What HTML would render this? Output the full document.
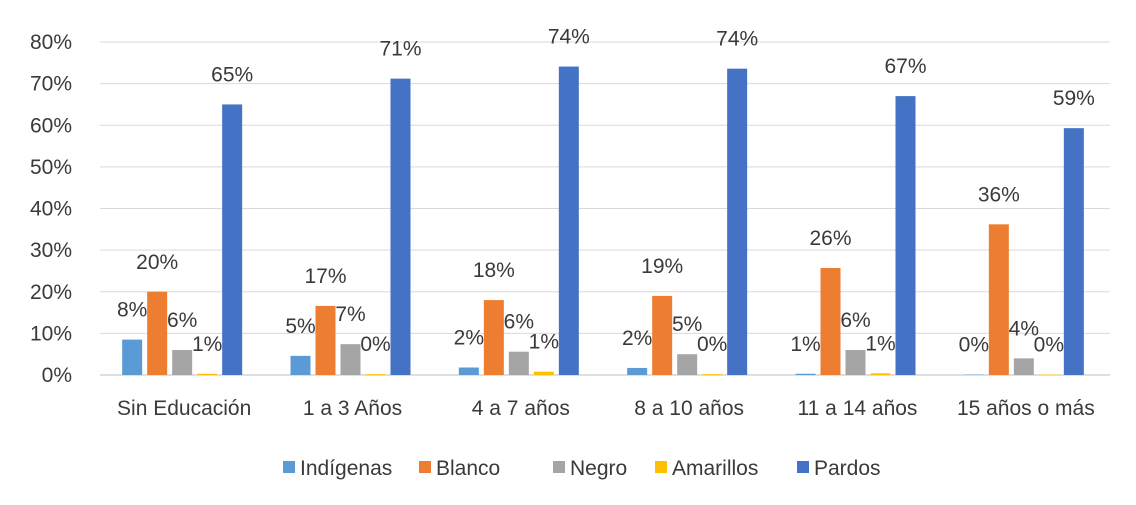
<!DOCTYPE html>
<html><head><meta charset="utf-8"><style>
body{margin:0;background:#fff}
svg text{font-family:"Liberation Sans",sans-serif;fill:#3a3a3a}
</style></head><body>
<svg width="1136" height="500">
<g id="grid"></g>
<g id="yaxis"></g>
<g id="bars"></g>
<g id="xaxis"></g>
<g id="legend"></g>
</svg>
<script>
const categories=["Sin Educación","1 a 3 Años","4 a 7 años","8 a 10 años","11 a 14 años","15 años o más"];
const seriesNames=["Indígenas","Blanco","Negro","Amarillos","Pardos"];
const colors=["#5B9BD5","#ED7D31","#A5A5A5","#FFC000","#4472C4"];
const indigenas=[8.5,4.6,1.8,1.7,0.3,0.1];
const blanco=[20,16.6,18,19,25.7,36.2];
const negro=[6,7.4,5.6,5,6,4];
const amarillos=[0.3,0.2,0.8,0.2,0.4,0.1];
const pardos=[65,71.2,74.1,73.6,67,59.3];
const indLabels=["8%","5%","2%","2%","1%","0%"];
const blaLabels=["20%","17%","18%","19%","26%","36%"];
const negLabels=["6%","7%","6%","5%","6%","4%"];
const amaLabels=["1%","0%","1%","0%","1%","0%"];
const parLabels=["65%","71%","74%","74%","67%","59%"];
const yTicks=[0,10,20,30,40,50,60,70,80];
const series=[indigenas,blanco,negro,amarillos,pardos];
const labels=[indLabels,blaLabels,negLabels,amaLabels,parLabels];
const ns="http://www.w3.org/2000/svg";
const L=100,R=1110,Y0=375,Y80=42;
const y=v=>Y0-(v/80)*(Y0-Y80);
const cw=(R-L)/categories.length;
const x=(c,s)=>L+cw*c+cw/2-62+s*25;
function mk(t,a,p){const e=document.createElementNS(ns,t);for(const k in a)e.setAttribute(k,a[k]);p.appendChild(e);return e;}
const g=document.getElementById('grid'),ya=document.getElementById('yaxis'),b=document.getElementById('bars'),xa=document.getElementById('xaxis'),lg=document.getElementById('legend');
yTicks.forEach(t=>{
 const l=mk('line',{x1:L,x2:R,y1:y(t),y2:y(t),stroke:t===0?'#BFBFBF':'#D9D9D9','stroke-width':1},g);
 
 
 const tx=mk('text',{x:72,y:y(t)+7,'text-anchor':'end','font-size':21},ya);
 tx.textContent=t+'%';
 
 
});
categories.forEach((c,ci)=>{
 series.forEach((s,si)=>{
  const top=y(s[ci]);
  const r=mk('rect',{x:x(ci,si),y:top,width:20,height:Y0-top,fill:colors[si]},b);
  
  
  const t=mk('text',{x:x(ci,si)+10,y:top-23,'text-anchor':'middle','font-size':21},b);
  t.textContent=labels[si][ci];
  
  
 });
 const t=mk('text',{x:L+cw*ci+cw/2,y:415,'text-anchor':'middle','font-size':21},xa);
 t.textContent=c;
 
 
});
const lx=[283,419,553,655,797];
seriesNames.forEach((n,i)=>{
 const r=mk('rect',{x:lx[i],y:461,width:12,height:12,fill:colors[i]},lg);
 
 
 const t=mk('text',{x:lx[i]+17,y:475,'font-size':21},lg);
 t.textContent=n;
 
 
});
</script>
</body></html>
